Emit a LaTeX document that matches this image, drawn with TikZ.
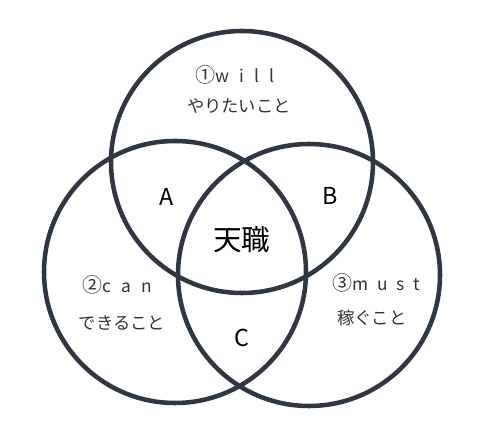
\documentclass[tikz,border=0pt]{standalone}
\usepackage{fontspec}
\newfontfamily\jp{Noto Sans CJK JP}
\definecolor{ring}{HTML}{2F3742}
\definecolor{txt}{HTML}{333333}
\begin{document}
\begin{tikzpicture}[x=0.75pt,y=-0.75pt,
  ring/.style={draw=ring,line width=3.4pt,circle,inner sep=0pt,minimum size=196.5pt},
  lbl/.style={font=\jp\fontsize{13}{15}\selectfont,text=txt,inner sep=0pt},
  big/.style={font=\jp\fontsize{17.5}{20}\selectfont,text=black,inner sep=0pt},
  core/.style={font=\jp\fontsize{21.5}{24}\selectfont,text=black,inner sep=0pt}]
\useasboundingbox (0,0) rectangle (480,438);
\fill[white] (0,0) rectangle (480,438);
\node[ring] (will) at (242,162) {};
\node[ring] (can) at (175,272) {};
\node[ring] (must) at (309,275) {};
\node[lbl] (t1) at (235,75) {{\fontsize{15}{15}\selectfont ①}w\hspace{0.6em}i\hspace{0.6em}l\hspace{0.6em}l};
\node[lbl] (t1b) at (239,106) {やりたいこと};
\node[lbl] (t2) at (117,285) {{\fontsize{15}{15}\selectfont ②}c\hspace{0.6em}a\hspace{0.6em}n};
\node[lbl] (t2b) at (122,323) {できること};
\node[lbl] (t3) at (376,283) {{\fontsize{15}{15}\selectfont ③}m\hspace{0.5em}u\hspace{0.5em}s\hspace{0.5em}t};
\node[lbl] (t3b) at (372,318) {稼ぐこと};
\node[big] (a) at (167,197) {A};
\node[big] (b) at (330,196) {B};
\node[big] (c) at (242,338) {C};
\node[core] (tn) at (242,240) {天職};
\end{tikzpicture}
\end{document}
